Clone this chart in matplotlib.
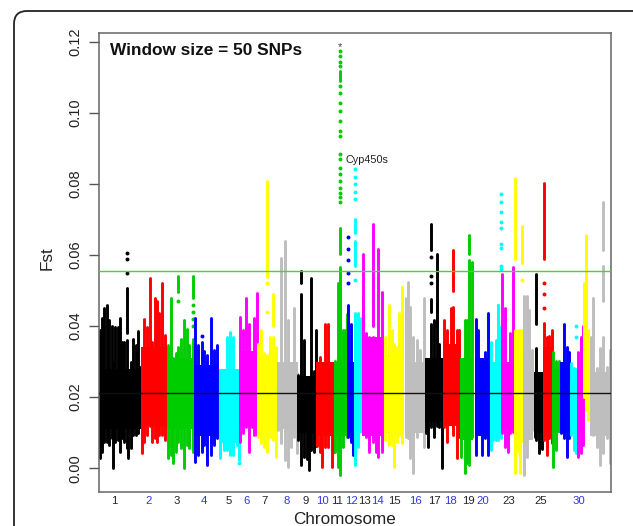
import matplotlib
matplotlib.use('Agg')
import matplotlib.pyplot as plt
from matplotlib.patches import FancyBboxPatch

plt.rcParams['font.family'] = ['Liberation Sans', 'DejaVu Sans']

# one inner list per chromosome: position along the genome axis, top and bottom of the Fst cloud
pos = [
    [1, 3, 5, 8, 10, 13, 14, 16, 19, 21, 23, 25, 28, 29, 32, 34, 37, 39, 41],
    [43, 45, 48, 51, 53, 56, 58, 60, 63, 66, 68],
    [69, 72, 74, 77, 79, 82, 85, 88, 90, 94],
    [96, 99, 103, 105, 108, 112, 115, 118],
    [121, 125, 128, 131, 134, 138, 140],
    [141, 144, 147, 150, 153, 155, 158],
    [159, 162, 165, 168, 171, 174, 177],
    [179, 182, 186, 189, 192, 195, 198],
    [199, 202, 205, 208, 210, 212, 215, 217],
    [218, 221, 223, 226, 229, 233, 235],
    [236, 239, 241, 244, 246, 248],
    [249, 252, 254],
    [256, 259, 262],
    [264, 267, 270, 274, 277, 279, 283],
    [286, 290, 293, 295, 298, 300, 303],
    [307, 309, 311, 314, 318, 321, 325],
    [327, 329, 332, 335, 338, 340, 343],
    [345, 348, 352, 354, 358, 360],
    [362, 366, 368, 370, 373],
    [377, 379, 383, 386, 389],
    [392, 394, 397, 399, 402],
    [403, 406, 409, 411, 414],
    [416, 419, 421, 423],
    [425, 428, 430, 433],
    [436, 437, 440, 443],
    [445, 448, 450, 453],
    [454, 457, 460],
    [462, 465, 468, 470],
    [472, 475, 477],
    [479, 482, 484],
    [485, 487, 489],
    [492, 494, 498, 501, 504, 508, 511],
]
top = [
    [.0388, .0424, .045, .0458, .0416, .040, .030, .0397, .0397, .0424, .0354, .0354, .036, .0253, .030, .0365, .0346, .0385, .0284],
    [.0284, .042, .0397, .0534, .0354, .048, .0472, .0438, .052, .0374, .0253],
    [.0346, .048, .031, .0325, .0342, .0365, .0416, .0393, .0346, .0364],
    [.0424, .0346, .0355, .033, .0318, .0424, .0332, .0346],
    [.0233, .0233, .0368, .0382, .037, .0267, .021],
    [.0427, .0388, .0478, .0407, .0323, .0424, .0492],
    [.0351, .0388, .0323, .032, .0368, .0368, .0340],
    [.0275, .0593, .064, .0416, .0275, .045, .0267],
    [.0261, .043, .036, .022, .024, .0534, .0275, .0388],
    [.0267, .0312, .0284, .0407, .0407, .0267, .0267],
    [.0303, .052, .0565, .0388, .0388, .0435],
    [.0458, .0407, .0256],
    [.0438, .0438, .0424],
    [.048, .038, .037, .037, .036, .040, .0495],
    [.0368, .0458, .0388, .035, .0340, .0438, .051],
    [.048, .0523, .0455, .0368, .036, .0332, .048],
    [.0281, .0284, .0407, .0416, .046, .035, .021],
    [.0416, .0388, .045, .0453, .039, .0388],
    [.0303, .0416, .0416, .0585, .058],
    [.042, .0388, .0275, .0326, .0438],
    [.0354, .0281, .036, .0458, .040],
    [.0548, .0452, .0284, .038, .0565],
    [.0388, .0388, .039, .0388],
    [.0486, .0486, .0444, .0332],
    [.0256, .0337, .0267, .0256],
    [.041, .0368, .0372, .0388],
    [.0326, .0303, .0303],
    [.0284, .0407, .034, .0326],
    [.0295, .0281, .028],
    [.0326, .0368, .040],
    [.052, .0537, .0388],
    [.037, .048, .0281, .0337, .0368, .0284, .0332],
]
low = [
    [.0028, .0045, .0073, .0073, .0065, .0084, .0, .0073, .0079, .0045, .0084, .0073, .0056, .0028, .0056, .0093, .0093, .0098, .012],
    [.0042, .0073, .0093, .012, .0073, .0084, .0073, .0093, .0093, .0079, .012],
    [.0028, .0037, .0014, .0045, .0073, .0056, .0, .0065, .0056, .0045],
    [.0017, .0037, .0045, .0065, .0008, .0037, .0065, .0084],
    [.0028, .0051, .0051, .0037, .0037, .0065, .0022],
    [.0073, .0098, .0115, .0045, .0115, .0093, .0093],
    [.0087, .007, .0059, .0045, .0087, .0079, .0031],
    [.0107, .007, .0022, .0003, .006, .0087, .0042],
    [.0079, .0008, .0031, .0025, -.0006, .0051, .0045, .0062],
    [.0062, .0045, .0003, .0059, .0059, .0003, .0045],
    [.0045, .0003, -.002, .006, .0115, .0087],
    [.0087, .0073, .0037],
    [.0008, .006, .012],
    [.0135, .0087, .0045, .0073, .0045, .0031, .0045],
    [.0079, .0065, .0065, .0003, .0073, .0093, .007],
    [.0087, .0084, .0028, -.0014, .0087, .0115, .0059],
    [.0098, .006, .0115, .0087, .012, .0115, .0],
    [.0115, .0073, .013, .0093, .0028, .0087],
    [.0031, -.0014, .0014, .0008, .0087],
    [.0037, .0098, .0037, .0084, .0037],
    [.0051, .0079, .0079, .0079, .0084],
    [.0098, .0059, .0045, .0098, .0101],
    [-.0014, .0045, -.0014, .0084],
    [-.002, .0031, .0084, .0107],
    [.0087, .0079, .0042, .0053],
    [.0079, .0037, .0084, .007],
    [.0003, .0051, .012],
    [.0098, .0084, .0031, .0084],
    [.0093, .0051, .0042],
    [.0031, .0042, .0065],
    [.02, .0163, .0135],
    [.0107, .0093, .0059, .0008, .0042, .0084, .0014],
]

# solid middle of each chromosome's cloud
core_low = [.011, .012, .011, .009, .007, .012, .011, .011, .010, .009, .009, .010, .010, .009, .010, .010,
            .013, .012, .008, .009, .010, .011, .007, .008, .010, .009, .010, .010, .011, .010, .020, .009]
core_high = [.028, .034, .031, .029, .028, .033, .032, .030, .026, .030, .030, .030, .036, .037, .032, .030,
             .031, .035, .031, .031, .030, .030, .036, .031, .027, .034, .028, .030, .025, .028, .033, .027]

# isolated runs above the clouds: chromosome number, position, low and high Fst
run_chrom = [7, 7, 11, 11, 13, 13, 14, 14, 14, 15, 17, 17, 17, 18, 21, 23, 23, 25, 26, 31, 32, 32, 3, 3, 1, 9, 9, 19]
run_pos = [168, 174, 241, 241, 256, 256, 264, 274, 279, 303, 332, 338, 332, 354, 399, 416, 423, 437, 445, 487, 504, 504, 79, 94, 28, 202, 202, 370]
run_low = [.0537, .0400, .0604, .1090, .0570, .0663, .0400, .0400, .0400, .0400, .0613, .0400, .0440, .0500, .0400, .0590, .0579, .0407, .0590, .0537, .0613, .0470, .0495, .0480, .0380, .0430, .0520, .0604]
run_high = [.0809, .0490, .0677, .1118, .0640, .0702, .0604, .0688, .0618, .0510, .0688, .0604, .0475, .0613, .0458, .0818, .0683, .0548, .0804, .0655, .0748, .0570, .0542, .0542, .0506, .0490, .0556, .0655]

# single dots
dot_chrom = [1, 1, 1, 3, 3, 3, 3, 3, 4, 5, 7, 7, 11, 11, 11, 11, 11, 11, 11, 11, 11, 11, 11, 11, 11, 11, 11, 11, 11, 11, 11, 11, 12, 12, 12, 12, 12, 13, 13, 13, 13, 13, 13, 17, 17, 17, 21, 21, 21, 21, 21, 21, 21, 21, 21, 23, 26, 26, 26, 29, 29]
dot_pos = [28, 28, 28, 79, 94, 94, 94, 94, 103, 140, 168, 168, 241, 241, 241, 241, 241, 241, 241, 241, 241, 241, 241, 241, 241, 241, 241, 241, 241, 241, 241, 241, 249, 249, 249, 249, 249, 256, 256, 256, 256, 256, 256, 332, 332, 332, 402, 402, 402, 402, 402, 402, 402, 402, 402, 423, 445, 445, 445, 477, 477]
dot_fst = [.0607, .0590, .0550, .047, .046, .044, .042, .040, .0371, .0015, .0520, .0440, .1175, .116, .1142, .1132, .1076, .1057, .1029, .1006, .0978, .095, .0936, .0884, .087, .0846, .0829, .0809, .079, .0776, .0762, .0748, .065, .0618, .0585, .055, .052, .0843, .082, .080, .0778, .0759, .0530, .0595, .0542, .052, .0773, .0748, .072, .0692, .0677, .0632, .0621, .057, .0562, .0530, .0520, .0490, .0450, .040, .037]

chrom_colors = ['black', 'red', '#00cd00', 'blue', 'cyan', 'magenta', 'yellow', '#bebebe']

tick_pos = [15, 50, 78, 105, 130, 148, 166, 188, 207, 223, 238, 252, 265, 278, 295, 316, 335, 351, 369, 384, 410, 442, 480]
tick_names = ['1', '2', '3', '4', '5', '6', '7', '8', '9', '10', '11', '12', '13', '14', '15', '16', '17', '18', '19', '20', '23', '25', '30']
tick_blue = ['2', '4', '6', '8', '10', '12', '14', '16', '18', '20', '30']

y_ticks = [0.00, 0.02, 0.04, 0.06, 0.08, 0.10, 0.12]
threshold = 0.0554
mean_fst = 0.0211

fig = plt.figure(figsize=(6.33, 5.26), dpi=100)

# rounded panel frame, runs off the right and bottom of the picture
frame = FancyBboxPatch((14, -40), 640, 555, boxstyle='round,pad=0,rounding_size=13',
                       transform=None, fc='white', ec='#222222', lw=1.3, zorder=-5)
fig.add_artist(frame)

ax = fig.add_axes([99 / 633, 34 / 526, 512 / 633, 459 / 526])
ax.patch.set_alpha(0)

for i in range(32):
    c = chrom_colors[i % 8]
    z = 2 + i * 0.01
    ax.bar((pos[i][0] + pos[i][-1]) / 2, core_high[i] - core_low[i], width=pos[i][-1] - pos[i][0] + 2,
           bottom=core_low[i], color=c, zorder=z)
    ax.vlines(pos[i], low[i], top[i], color=c, lw=2.1, capstyle='round', zorder=z)
    for ch, p, a, b in zip(run_chrom, run_pos, run_low, run_high):
        if ch == i + 1:
            ax.vlines(p, a, b, color=c, lw=2.1, capstyle='round', zorder=z)
    xs = [p for ch, p in zip(dot_chrom, dot_pos) if ch == i + 1]
    ys = [f for ch, f in zip(dot_chrom, dot_fst) if ch == i + 1]
    ax.scatter(xs, ys, s=8, color=c, linewidths=0, zorder=z)

ax.axhline(threshold, color='#33dd33', lw=1.0, zorder=3)
ax.axhline(mean_fst, color='#111111', lw=1.0, zorder=3)

ax.set_xlim(0, 512)
ax.set_ylim(-0.0067, 0.1225)
ax.set_yticks(y_ticks)
ax.set_yticklabels(['%.2f' % v for v in y_ticks], rotation=90, va='center', fontsize=10.5, color='#222222')
ax.tick_params(axis='y', length=7, width=1, color='#555555', pad=5)
ax.set_xticks(tick_pos)
ax.set_xticklabels(tick_names, fontsize=8.2)
ax.tick_params(axis='x', length=0, pad=3)
for lab in ax.get_xticklabels():
    lab.set_color('#3333ee' if lab.get_text() in tick_blue else '#222222')
for s in ax.spines.values():
    s.set_color('#666666')
    s.set_linewidth(1.1)

ax.text(11, 0.1175, 'Window size = 50 SNPs', fontsize=12.4, fontweight='bold', va='center', color='#111111')
ax.text(247, 0.0868, 'Cyp450s', fontsize=7.8, va='center', color='#222222')
ax.text(241, 0.1185, '*', fontsize=8, ha='center', va='center', color='#444444')

fig.text(47 / 633, 1 - 258 / 526, 'Fst', rotation=90, fontsize=12.3, ha='center', va='center', color='#222222')
fig.text(345 / 633, 1 - 519 / 526, 'Chromosome', fontsize=12.3, ha='center', va='center', color='#222222')

fig.savefig('out.png', dpi=100)
